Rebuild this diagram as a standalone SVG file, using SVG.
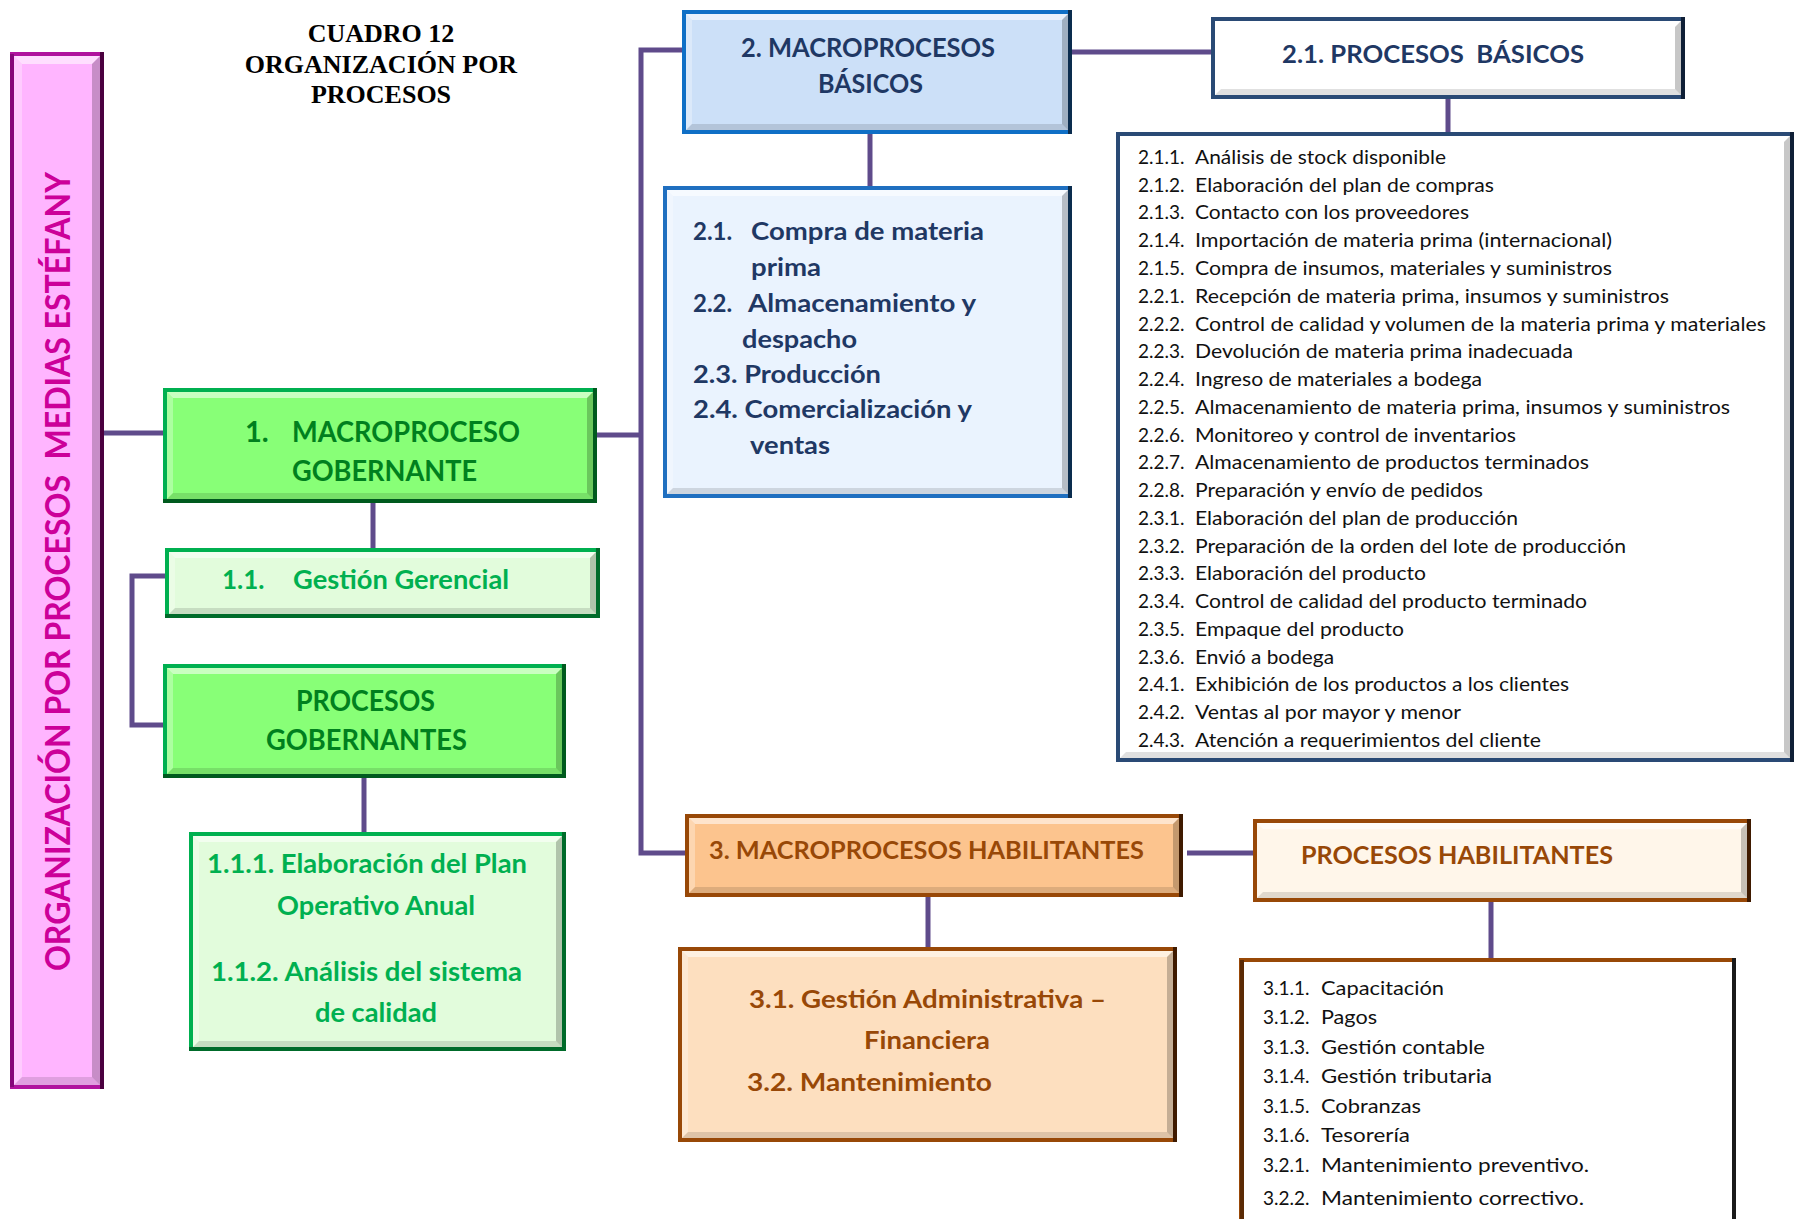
<svg xmlns="http://www.w3.org/2000/svg" width="1796" height="1219" viewBox="0 0 1796 1219">
  <style>
    .conn { stroke: #5F4B8B; stroke-width: 5; fill: none; }
    .bt { fill: #ffffff; opacity: 0.55; }
    .bl { fill: #ffffff; opacity: 0.3; }
    .bb { fill: #000000; opacity: 0.12; }
    .br { fill: #000000; opacity: 0.22; }
    .edge { fill: none; stroke-width: 4; }
    .title { font-family: "Liberation Serif", "Times New Roman", serif; font-weight: bold; font-size: 26px; fill: #000; text-anchor: middle; }
    .bold { font-family: Lato, "Noto Sans", sans-serif; font-weight: bold; }
    .reg { font-family: Lato, "Noto Sans", sans-serif; font-weight: normal; }
    .pink-t { fill: #CC0099; font-size: 35px; white-space: pre; }
    .green-t { fill: #00801E; font-size: 29px; }
    .lgreen-t { fill: #00B050; font-size: 26px; }
    .navy-t { fill: #1F3864; }
    .brown-t { fill: #984807; font-size: 24px; }
    .list-t { fill: #111111; font-size: 19px; }
  </style>

  <!-- heading -->
  <g id="heading">
    <text class="title" x="381" y="42">CUADRO 12</text>
    <text class="title" x="381" y="73">ORGANIZACIÓN POR</text>
    <text class="title" x="381" y="103">PROCESOS</text>
  </g>

  <!-- connectors -->
  <g id="connectors">
    <path class="conn" d="M104 433 H163"/>
    <path class="conn" d="M597 435 H641"/>
    <path class="conn" d="M682 50 H641 V853 H685"/>
    <path class="conn" d="M1072 52 H1211"/>
    <path class="conn" d="M870 134 V186"/>
    <path class="conn" d="M1448 99 V132"/>
    <path class="conn" d="M373 503 V548"/>
    <path class="conn" d="M165 576 H132 V725 H163"/>
    <path class="conn" d="M364 778 V832"/>
    <path class="conn" d="M1187 853 H1253"/>
    <path class="conn" d="M928 897 V947"/>
    <path class="conn" d="M1491 902 V958"/>
  </g>

  <!-- vertical title bar -->
  <g id="org-bar">
    <rect x="10" y="52" width="94" height="1037" fill="#FFB5FF"/>
    <path class="bt" d="M10,52 H104 L92,64 H22 Z"/>
    <path class="bl" d="M10,52 L22,64 V1077 L10,1089 Z"/>
    <path class="bb" d="M10,1089 L22,1077 H92 L104,1089 Z"/>
    <path class="br" d="M104,52 V1089 L92,1077 V64 Z"/>
    <rect class="edge" x="12" y="54" width="90" height="1033" stroke="#B0139E"/>
    <path class="edge" d="M102 52 V1089" stroke="#4B003F"/>
    <path class="edge" d="M12 54 V1087" stroke="#86077A"/>
    <text class="bold pink-t" transform="translate(70,971) rotate(-90)" textLength="799" lengthAdjust="spacingAndGlyphs">ORGANIZACIÓN POR PROCESOS  MEDIAS ESTÉFANY</text>
  </g>

  <!-- macroproceso gobernante -->
  <g id="macro-gobernante">
    <rect x="163" y="388" width="434" height="115" fill="#88FF77"/>
    <path class="bt" d="M163,388 H597 L587,398 H173 Z"/>
    <path class="bl" d="M163,388 L173,398 V493 L163,503 Z"/>
    <path class="bb" d="M163,503 L173,493 H587 L597,503 Z"/>
    <path class="br" d="M597,388 V503 L587,493 V398 Z"/>
    <rect class="edge" x="165" y="390" width="430" height="111" stroke="#00B050"/>
    <path class="edge" d="M595 388 V503 M163 501 H597" stroke="#005A1E"/>
    <text class="bold green-t" x="245" y="442">1.</text>
    <text class="bold green-t" x="292" y="442" textLength="228" lengthAdjust="spacingAndGlyphs">MACROPROCESO</text>
    <text class="bold green-t" x="292" y="481" textLength="185" lengthAdjust="spacingAndGlyphs">GOBERNANTE</text>
  </g>

  <!-- gestion gerencial -->
  <g id="gestion-gerencial">
    <rect x="165" y="548" width="435" height="70" fill="#E2FCDC"/>
    <path class="bt" d="M165,548 H600 L590,558 H175 Z"/>
    <path class="bl" d="M165,548 L175,558 V608 L165,618 Z"/>
    <path class="bb" d="M165,618 L175,608 H590 L600,618 Z"/>
    <path class="br" d="M600,548 V618 L590,608 V558 Z"/>
    <rect class="edge" x="167" y="550" width="431" height="66" stroke="#00B050"/>
    <path class="edge" d="M598 548 V618 M165 616 H600" stroke="#006B2A"/>
    <text class="bold lgreen-t" x="222" y="589">1.1.</text>
    <text class="bold lgreen-t" x="293" y="589" textLength="216" lengthAdjust="spacingAndGlyphs">Gestión Gerencial</text>
  </g>

  <!-- procesos gobernantes -->
  <g id="procesos-gobernantes">
    <rect x="163" y="664" width="403" height="114" fill="#88FF77"/>
    <path class="bt" d="M163,664 H566 L556,674 H173 Z"/>
    <path class="bl" d="M163,664 L173,674 V768 L163,778 Z"/>
    <path class="bb" d="M163,778 L173,768 H556 L566,778 Z"/>
    <path class="br" d="M566,664 V778 L556,768 V674 Z"/>
    <rect class="edge" x="165" y="666" width="399" height="110" stroke="#00B050"/>
    <path class="edge" d="M564 664 V778 M163 776 H566" stroke="#005A1E"/>
    <text class="bold green-t" x="296" y="711" textLength="139" lengthAdjust="spacingAndGlyphs">PROCESOS</text>
    <text class="bold green-t" x="266" y="750" textLength="201" lengthAdjust="spacingAndGlyphs">GOBERNANTES</text>
  </g>

  <!-- detalle gobernante -->
  <g id="detalle-gobernante">
    <rect x="189" y="832" width="377" height="219" fill="#E2FCDC"/>
    <path class="bt" d="M189,832 H566 L556,842 H199 Z"/>
    <path class="bl" d="M189,832 L199,842 V1041 L189,1051 Z"/>
    <path class="bb" d="M189,1051 L199,1041 H556 L566,1051 Z"/>
    <path class="br" d="M566,832 V1051 L556,1041 V842 Z"/>
    <rect class="edge" x="191" y="834" width="373" height="215" stroke="#00B050"/>
    <path class="edge" d="M564 832 V1051 M189 1049 H566" stroke="#006B2A"/>
    <text class="bold lgreen-t" x="207" y="873" textLength="320" lengthAdjust="spacingAndGlyphs">1.1.1. Elaboración del Plan</text>
    <text class="bold lgreen-t" x="277" y="915" textLength="198" lengthAdjust="spacingAndGlyphs">Operativo Anual</text>
    <text class="bold lgreen-t" x="211" y="981" textLength="311" lengthAdjust="spacingAndGlyphs">1.1.2. Análisis del sistema</text>
    <text class="bold lgreen-t" x="315" y="1022" textLength="122" lengthAdjust="spacingAndGlyphs">de calidad</text>
  </g>

  <!-- macroprocesos basicos -->
  <g id="macro-basicos">
    <rect x="682" y="10" width="390" height="124" fill="#CCE0F8"/>
    <path class="bt" d="M682,10 H1072 L1062,20 H692 Z"/>
    <path class="bl" d="M682,10 L692,20 V124 L682,134 Z"/>
    <path class="bb" d="M682,134 L692,124 H1062 L1072,134 Z"/>
    <path class="br" d="M1072,10 V134 L1062,124 V20 Z"/>
    <rect class="edge" x="684" y="12" width="386" height="120" stroke="#0F6FC6"/>
    <path class="edge" d="M1070 10 V134" stroke="#0A2C4E"/>
    <text class="bold navy-t" x="741" y="57" font-size="27" textLength="254" lengthAdjust="spacingAndGlyphs">2. MACROPROCESOS</text>
    <text class="bold navy-t" x="818" y="93" font-size="27" textLength="105" lengthAdjust="spacingAndGlyphs">BÁSICOS</text>
  </g>

  <!-- procesos basicos -->
  <g id="procesos-basicos">
    <rect x="1211" y="17" width="474" height="82" fill="#FFFFFF"/>
    <path class="bb" d="M1211,99 L1221,89 H1675 L1685,99 Z"/>
    <path class="br" d="M1685,17 V99 L1675,89 V27 Z"/>
    <rect class="edge" x="1213" y="19" width="470" height="78" stroke="#2A4A75"/>
    <path class="edge" d="M1683 17 V99" stroke="#0F1F36"/>
    <text class="bold navy-t" x="1282" y="63" font-size="25" textLength="302" lengthAdjust="spacingAndGlyphs" style="white-space:pre">2.1. PROCESOS  BÁSICOS</text>
  </g>

  <!-- areas basicas -->
  <g id="areas-basicas">
    <rect x="663" y="186" width="409" height="312" fill="#EAF3FE"/>
    <path class="bt" d="M663,186 H1072 L1062,196 H673 Z"/>
    <path class="bl" d="M663,186 L673,196 V488 L663,498 Z"/>
    <path class="bb" d="M663,498 L673,488 H1062 L1072,498 Z"/>
    <path class="br" d="M1072,186 V498 L1062,488 V196 Z"/>
    <rect class="edge" x="665" y="188" width="405" height="308" stroke="#1F6FC0"/>
    <path class="edge" d="M1070 186 V498" stroke="#0A2C4E"/>
    <g class="bold navy-t" font-size="24">
      <text x="693" y="240">2.1.</text>
      <text x="751" y="240" textLength="233" lengthAdjust="spacingAndGlyphs">Compra de materia</text>
      <text x="751" y="276" textLength="70" lengthAdjust="spacingAndGlyphs">prima</text>
      <text x="693" y="312">2.2.</text>
      <text x="748" y="312" textLength="228" lengthAdjust="spacingAndGlyphs">Almacenamiento y</text>
      <text x="742" y="348" textLength="115" lengthAdjust="spacingAndGlyphs">despacho</text>
      <text x="693" y="383" textLength="188" lengthAdjust="spacingAndGlyphs">2.3. Producción</text>
      <text x="693" y="418" textLength="279" lengthAdjust="spacingAndGlyphs">2.4. Comercialización y</text>
      <text x="750" y="454" textLength="80" lengthAdjust="spacingAndGlyphs">ventas</text>
    </g>
  </g>

  <!-- lista procesos basicos -->
  <g id="lista-basicos">
    <rect x="1116" y="132" width="678" height="630" fill="#FFFFFF"/>
    <path class="bb" d="M1116,762 L1126,752 H1784 L1794,762 Z"/>
    <path class="br" d="M1794,132 V762 L1784,752 V142 Z"/>
    <rect class="edge" x="1118" y="134" width="674" height="626" stroke="#2A4A75"/>
    <path class="edge" d="M1792 132 V762" stroke="#0F1F36"/>
    <g class="reg list-t">
      <text y="164"><tspan x="1138">2.1.1.</tspan><tspan x="1195" textLength="251" lengthAdjust="spacingAndGlyphs">Análisis de stock disponible</tspan></text>
      <text y="192"><tspan x="1138">2.1.2.</tspan><tspan x="1195" textLength="299" lengthAdjust="spacingAndGlyphs">Elaboración del plan de compras</tspan></text>
      <text y="219"><tspan x="1138">2.1.3.</tspan><tspan x="1195" textLength="274" lengthAdjust="spacingAndGlyphs">Contacto con los proveedores</tspan></text>
      <text y="247"><tspan x="1138">2.1.4.</tspan><tspan x="1195" textLength="417" lengthAdjust="spacingAndGlyphs">Importación de materia prima (internacional)</tspan></text>
      <text y="275"><tspan x="1138">2.1.5.</tspan><tspan x="1195" textLength="417" lengthAdjust="spacingAndGlyphs">Compra de insumos, materiales y suministros</tspan></text>
      <text y="303"><tspan x="1138">2.2.1.</tspan><tspan x="1195" textLength="474" lengthAdjust="spacingAndGlyphs">Recepción de materia prima, insumos y suministros</tspan></text>
      <text y="331"><tspan x="1138">2.2.2.</tspan><tspan x="1195" textLength="571" lengthAdjust="spacingAndGlyphs">Control de calidad y volumen de la materia prima y materiales</tspan></text>
      <text y="358"><tspan x="1138">2.2.3.</tspan><tspan x="1195" textLength="378" lengthAdjust="spacingAndGlyphs">Devolución de materia prima inadecuada</tspan></text>
      <text y="386"><tspan x="1138">2.2.4.</tspan><tspan x="1195" textLength="287" lengthAdjust="spacingAndGlyphs">Ingreso de materiales a bodega</tspan></text>
      <text y="414"><tspan x="1138">2.2.5.</tspan><tspan x="1195" textLength="535" lengthAdjust="spacingAndGlyphs">Almacenamiento de materia prima, insumos y suministros</tspan></text>
      <text y="442"><tspan x="1138">2.2.6.</tspan><tspan x="1195" textLength="321" lengthAdjust="spacingAndGlyphs">Monitoreo y control de inventarios</tspan></text>
      <text y="469"><tspan x="1138">2.2.7.</tspan><tspan x="1195" textLength="394" lengthAdjust="spacingAndGlyphs">Almacenamiento de productos terminados</tspan></text>
      <text y="497"><tspan x="1138">2.2.8.</tspan><tspan x="1195" textLength="288" lengthAdjust="spacingAndGlyphs">Preparación y envío de pedidos</tspan></text>
      <text y="525"><tspan x="1138">2.3.1.</tspan><tspan x="1195" textLength="323" lengthAdjust="spacingAndGlyphs">Elaboración del plan de producción</tspan></text>
      <text y="553"><tspan x="1138">2.3.2.</tspan><tspan x="1195" textLength="431" lengthAdjust="spacingAndGlyphs">Preparación de la orden del lote de producción</tspan></text>
      <text y="580"><tspan x="1138">2.3.3.</tspan><tspan x="1195" textLength="231" lengthAdjust="spacingAndGlyphs">Elaboración del producto</tspan></text>
      <text y="608"><tspan x="1138">2.3.4.</tspan><tspan x="1195" textLength="392" lengthAdjust="spacingAndGlyphs">Control de calidad del producto terminado</tspan></text>
      <text y="636"><tspan x="1138">2.3.5.</tspan><tspan x="1195" textLength="209" lengthAdjust="spacingAndGlyphs">Empaque del producto</tspan></text>
      <text y="664"><tspan x="1138">2.3.6.</tspan><tspan x="1195" textLength="139" lengthAdjust="spacingAndGlyphs">Envió a bodega</tspan></text>
      <text y="691"><tspan x="1138">2.4.1.</tspan><tspan x="1195" textLength="374" lengthAdjust="spacingAndGlyphs">Exhibición de los productos a los clientes</tspan></text>
      <text y="719"><tspan x="1138">2.4.2.</tspan><tspan x="1195" textLength="266" lengthAdjust="spacingAndGlyphs">Ventas al por mayor y menor</tspan></text>
      <text y="747"><tspan x="1138">2.4.3.</tspan><tspan x="1195" textLength="346" lengthAdjust="spacingAndGlyphs">Atención a requerimientos del cliente</tspan></text>
    </g>
  </g>

  <!-- macroprocesos habilitantes -->
  <g id="macro-habilitantes">
    <rect x="685" y="814" width="498" height="83" fill="#FCC48E"/>
    <path class="bt" d="M685,814 H1183 L1173,824 H695 Z"/>
    <path class="bl" d="M685,814 L695,824 V887 L685,897 Z"/>
    <path class="bb" d="M685,897 L695,887 H1173 L1183,897 Z"/>
    <path class="br" d="M1183,814 V897 L1173,887 V824 Z"/>
    <rect class="edge" x="687" y="816" width="494" height="79" stroke="#984807"/>
    <path class="edge" d="M1181 814 V897" stroke="#3F1A00"/>
    <text class="bold brown-t" x="709" y="859" textLength="435" lengthAdjust="spacingAndGlyphs">3. MACROPROCESOS HABILITANTES</text>
  </g>

  <!-- procesos habilitantes -->
  <g id="procesos-habilitantes">
    <rect x="1253" y="819" width="498" height="83" fill="#FFF6EA"/>
    <path class="bt" d="M1253,819 H1751 L1741,829 H1263 Z"/>
    <path class="bb" d="M1253,902 L1263,892 H1741 L1751,902 Z"/>
    <path class="br" d="M1751,819 V902 L1741,892 V829 Z"/>
    <rect class="edge" x="1255" y="821" width="494" height="79" stroke="#984807"/>
    <path class="edge" d="M1749 819 V902" stroke="#3F1A00"/>
    <text class="bold brown-t" x="1301" y="864" textLength="312" lengthAdjust="spacingAndGlyphs">PROCESOS HABILITANTES</text>
  </g>

  <!-- areas habilitantes -->
  <g id="areas-habilitantes">
    <rect x="678" y="947" width="499" height="195" fill="#FDDFBF"/>
    <path class="bt" d="M678,947 H1177 L1167,957 H688 Z"/>
    <path class="bl" d="M678,947 L688,957 V1132 L678,1142 Z"/>
    <path class="bb" d="M678,1142 L688,1132 H1167 L1177,1142 Z"/>
    <path class="br" d="M1177,947 V1142 L1167,1132 V957 Z"/>
    <rect class="edge" x="680" y="949" width="495" height="191" stroke="#984807"/>
    <path class="edge" d="M1175 947 V1142" stroke="#3F1A00"/>
    <text class="bold brown-t" x="749" y="1008" textLength="357" lengthAdjust="spacingAndGlyphs">3.1. Gestión Administrativa –</text>
    <text class="bold brown-t" x="864" y="1049" textLength="126" lengthAdjust="spacingAndGlyphs">Financiera</text>
    <text class="bold brown-t" x="747" y="1091" textLength="245" lengthAdjust="spacingAndGlyphs">3.2. Mantenimiento</text>
  </g>

  <!-- lista procesos habilitantes -->
  <g id="lista-habilitantes">
    <rect x="1241" y="960" width="493" height="300" fill="#FFFFFF" stroke="#984807" stroke-width="4"/>
    <path class="edge" d="M1242 960 V1219" stroke="#5A2A05"/>
    <path class="edge" d="M1734 958 V1219" stroke="#1A1A1A"/>
    <g class="reg list-t">
      <text y="995"><tspan x="1263">3.1.1.</tspan><tspan x="1321" textLength="123" lengthAdjust="spacingAndGlyphs">Capacitación</tspan></text>
      <text y="1024"><tspan x="1263">3.1.2.</tspan><tspan x="1321" textLength="56" lengthAdjust="spacingAndGlyphs">Pagos</tspan></text>
      <text y="1054"><tspan x="1263">3.1.3.</tspan><tspan x="1321" textLength="164" lengthAdjust="spacingAndGlyphs">Gestión contable</tspan></text>
      <text y="1083"><tspan x="1263">3.1.4.</tspan><tspan x="1321" textLength="171" lengthAdjust="spacingAndGlyphs">Gestión tributaria</tspan></text>
      <text y="1113"><tspan x="1263">3.1.5.</tspan><tspan x="1321" textLength="100" lengthAdjust="spacingAndGlyphs">Cobranzas</tspan></text>
      <text y="1142"><tspan x="1263">3.1.6.</tspan><tspan x="1321" textLength="89" lengthAdjust="spacingAndGlyphs">Tesorería</tspan></text>
      <text y="1172"><tspan x="1263">3.2.1.</tspan><tspan x="1321" textLength="268" lengthAdjust="spacingAndGlyphs">Mantenimiento preventivo.</tspan></text>
      <text y="1205"><tspan x="1263">3.2.2.</tspan><tspan x="1321" textLength="263" lengthAdjust="spacingAndGlyphs">Mantenimiento correctivo.</tspan></text>
    </g>
  </g>
</svg>
